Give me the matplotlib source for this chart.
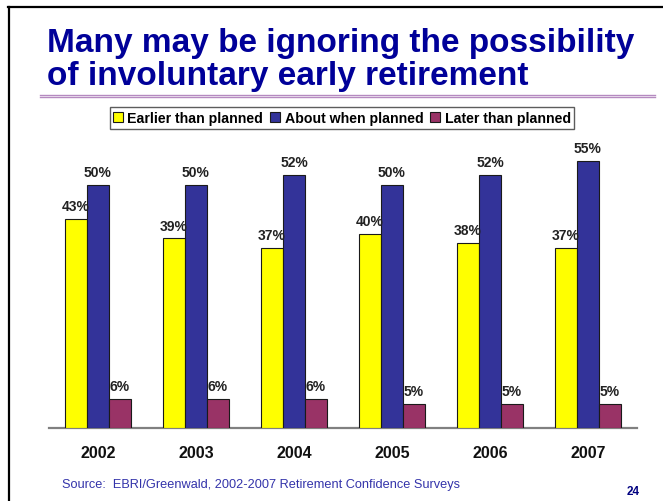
import matplotlib
matplotlib.use("Agg")
import matplotlib.pyplot as plt
from matplotlib.lines import Line2D
from matplotlib.patches import Patch
import numpy as np

years = ["2002", "2003", "2004", "2005", "2006", "2007"]
series_names = ["Earlier than planned", "About when planned", "Later than planned"]
earlier = [43, 39, 37, 40, 38, 37]
about = [50, 50, 52, 50, 52, 55]
later = [6, 6, 6, 5, 5, 5]
series = [earlier, about, later]
colors = ["#FFFF00", "#333399", "#993366"]

W, H = 663, 502
plt.rcParams["font.family"] = ["Liberation Sans", "DejaVu Sans"]
fig = plt.figure(figsize=(W / 100, H / 100), dpi=100)


def fx(x):
    return x / W


def fy(y):
    return 1 - y / H


# slide frame
fig.add_artist(Line2D([fx(8), fx(663)], [fy(8), fy(8)], color="black", lw=1.6))
fig.add_artist(Line2D([fx(9), fx(9)], [fy(8), fy(502)], color="black", lw=1.6))

# title
title_kw = dict(color="#000099", fontsize=24, fontweight="bold", va="baseline", ha="left")
fig.text(fx(47), fy(52), "Many may be ignoring the possibility", **title_kw)
fig.text(fx(47), fy(85), "of involuntary early retirement", **title_kw)

# double rule under title
fig.add_artist(Line2D([fx(40), fx(655)], [fy(95.5), fy(95.5)], color="#b58ac0", lw=1.0))
fig.add_artist(Line2D([fx(40), fx(655)], [fy(98), fy(98)], color="#b58ac0", lw=1.0))

# chart axes
base_px, ymax = 429, 60
px_per_unit = 4.86
ax_h = ymax * px_per_unit
ax = fig.add_axes([fx(49), fy(base_px), fx(637) - fx(49), ax_h / H])

x = np.arange(len(years))
bw = 0.225
offsets = [-bw, 0, bw]
for vals, off, col, name in zip(series, offsets, colors, series_names):
    ax.bar(x + off, vals, width=bw, color=col, edgecolor="#1a1a1a",
           linewidth=0.8, label=name, zorder=3)
    for xi, v in zip(x + off, vals):
        ax.text(xi, v + 1.2, f"{v}%", ha="center", va="bottom",
                fontsize=10, fontweight="bold", color="#222222", zorder=4)

ax.set_xlim(-0.5, len(years) - 0.5)
ax.set_ylim(0, ymax)
ax.set_yticks([])
ax.set_xticks(x)
ax.set_xticklabels(years, fontsize=11.5, fontweight="bold", color="#111111")
ax.tick_params(axis="x", length=0, pad=12)
for s in ["top", "left", "right"]:
    ax.spines[s].set_visible(False)
ax.spines["bottom"].set_color("#808080")
ax.spines["bottom"].set_linewidth(1.6)
ax.patch.set_alpha(0)

# legend
handles = [Patch(facecolor=c, edgecolor="#1a1a1a", linewidth=0.8) for c in colors]
leg = fig.legend(handles, series_names, loc="center", bbox_to_anchor=(fx(342), fy(119)),
                 ncol=3, frameon=True, fancybox=False, edgecolor="#333333",
                 prop={"size": 10.2, "weight": "bold"}, handlelength=0.7, handleheight=0.7,
                 handletextpad=0.3, columnspacing=0.5, borderpad=0.25, borderaxespad=0)
leg.get_frame().set_linewidth(1.0)

# footer
fig.text(fx(62), fy(488), "Source:  EBRI/Greenwald, 2002-2007 Retirement Confidence Surveys",
         fontsize=9.2, color="#3333aa", ha="left", va="baseline")
fig.text(fx(640), fy(495), "24", fontsize=8.5, fontweight="bold", color="#000080",
         ha="right", va="baseline")

fig.savefig("out.png", dpi=100)
